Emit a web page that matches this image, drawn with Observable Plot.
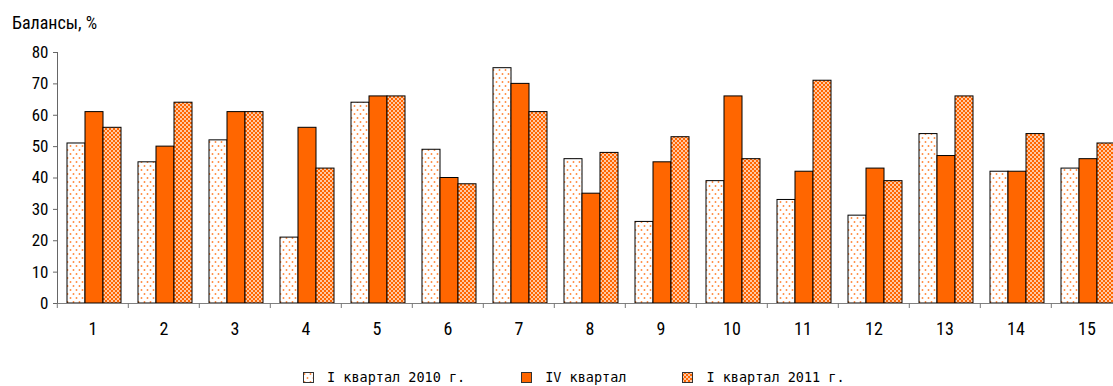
<!DOCTYPE html>
<html>
<head>
<meta charset="utf-8">
<script src="https://cdn.jsdelivr.net/npm/d3@7"></script>
<script src="https://cdn.jsdelivr.net/npm/@observablehq/plot@0.6"></script>
<style>
  html, body { margin: 0; padding: 0; background: #fff; overflow: hidden; width: 1113px; height: 386px; }
  body { position: relative; color: #000; font-family: "Roboto", "Liberation Sans", sans-serif; font-stretch: 82%; }
  #title { position: absolute; left: 12px; top: 13px; font-size: 18px; line-height: 20px; white-space: nowrap; }
  #chart { position: absolute; left: 0; top: 40px; }
  #legend { position: absolute; left: 303px; top: 368px; display: flex; gap: 56px; align-items: center;
            font-family: "DejaVu Sans Mono", monospace; font-stretch: normal; font-size: 13.5px; line-height: 18px; }
  #legend .item { display: flex; align-items: center; gap: 13px; white-space: nowrap; }
  #legend svg { display: block; }
  #chart svg text { font-stretch: 80%; }
</style>
</head>
<body>
<div id="title">Балансы, %</div>
<div id="chart"></div>
<div id="legend"></div>
<script>
// Survey balances (%) by question number for three periods
const groups = ["1", "2", "3", "4", "5", "6", "7", "8", "9", "10", "11", "12", "13", "14", "15"];
const seriesNames = ["I квартал 2010 г.", "IV квартал", "I квартал 2011 г."];
const q1_2010 = [51, 45, 52, 21, 64, 49, 75, 46, 26, 39, 33, 28, 54, 42, 43];
const q4_2010 = [61, 50, 61, 56, 66, 40, 70, 35, 45, 66, 42, 43, 47, 42, 46];
const q1_2011 = [56, 64, 61, 43, 66, 38, 61, 48, 53, 46, 71, 39, 66, 54, 51];
const yTicks = [0, 10, 20, 30, 40, 50, 60, 70, 80];

const orange = "#ff6600";
const fills = ["url(#dots)", orange, "url(#checks)"];
const seriesValues = [q1_2010, q4_2010, q1_2011];
const data = groups.flatMap((g, i) =>
  seriesNames.map((s, j) => ({group: g, series: s, value: seriesValues[j][i]}))
);

// The plot runs a little past the right edge of the page, so the last group is cut off
const width = 1126;
const marginLeft = 54;
const marginRight = 1;
const band = (width - marginLeft - marginRight) / groups.length;

const chart = Plot.plot({
  width,
  height: 310,
  marginLeft,
  marginRight,
  marginTop: 12,
  marginBottom: 47,
  style: {fontFamily: "Roboto, 'Liberation Sans', sans-serif", fontSize: "17px", color: "#000",
          background: "transparent", overflow: "visible", maxWidth: "none"},
  fx: {domain: groups, padding: 0, label: null},
  x: {domain: seriesNames, paddingInner: 0, paddingOuter: 0.47, align: 0.57, axis: null},
  y: {domain: [0, 80], label: null},
  color: {domain: seriesNames, range: fills},
  marks: [
    Plot.barY(data, {fx: "group", x: "series", y: "value", fill: "series", stroke: "#000", strokeWidth: 1}),
    Plot.ruleY([0], {stroke: "#808080", strokeWidth: 1.2}),
    Plot.frame({anchor: "left", facetAnchor: "left", stroke: "#666"}),
    Plot.axisY({ticks: yTicks, tickSize: 4, tickPadding: 5, stroke: "#666", label: null, fontSize: 17}),
    Plot.axisFx({anchor: "bottom", tickSize: 0, tickPadding: 19, label: null, fontSize: 18}),
    // small separator ticks between question groups
    Plot.axisFx({anchor: "bottom", tickSize: 5, tickFormat: () => "", dx: -band / 2, stroke: "#777", label: null})
  ]
});

// Fill patterns: dotted and checkered
const defs = d3.select(chart).insert("defs", ":first-child");
const dots = defs.append("pattern").attr("id", "dots").attr("patternUnits", "userSpaceOnUse")
  .attr("width", 6).attr("height", 8);
dots.append("rect").attr("width", 6).attr("height", 8).attr("fill", "#fff");
dots.append("circle").attr("cx", 1.5).attr("cy", 2).attr("r", 0.95).attr("fill", "#ff8a3d");
dots.append("circle").attr("cx", 4.5).attr("cy", 6).attr("r", 0.95).attr("fill", "#ff8a3d");

const checks = defs.append("pattern").attr("id", "checks").attr("patternUnits", "userSpaceOnUse")
  .attr("width", 4).attr("height", 4);
checks.append("rect").attr("width", 4).attr("height", 4).attr("fill", orange);
checks.append("rect").attr("x", 0.2).attr("y", 0.2).attr("width", 1.6).attr("height", 1.6).attr("fill", "#fff");
checks.append("rect").attr("x", 2.2).attr("y", 2.2).attr("width", 1.6).attr("height", 1.6).attr("fill", "#fff");

document.getElementById("chart").append(chart);

// Legend below the chart
const legend = d3.select("#legend");
seriesNames.forEach((name, i) => {
  const item = legend.append("div").attr("class", "item");
  item.append("svg").attr("width", 11).attr("height", 11)
    .append("rect").attr("x", 0.5).attr("y", 0.5).attr("width", 10).attr("height", 10)
    .attr("fill", fills[i]).attr("stroke", "#333").attr("stroke-width", 1);
  item.append("span").text(name);
});
</script>
</body>
</html>
